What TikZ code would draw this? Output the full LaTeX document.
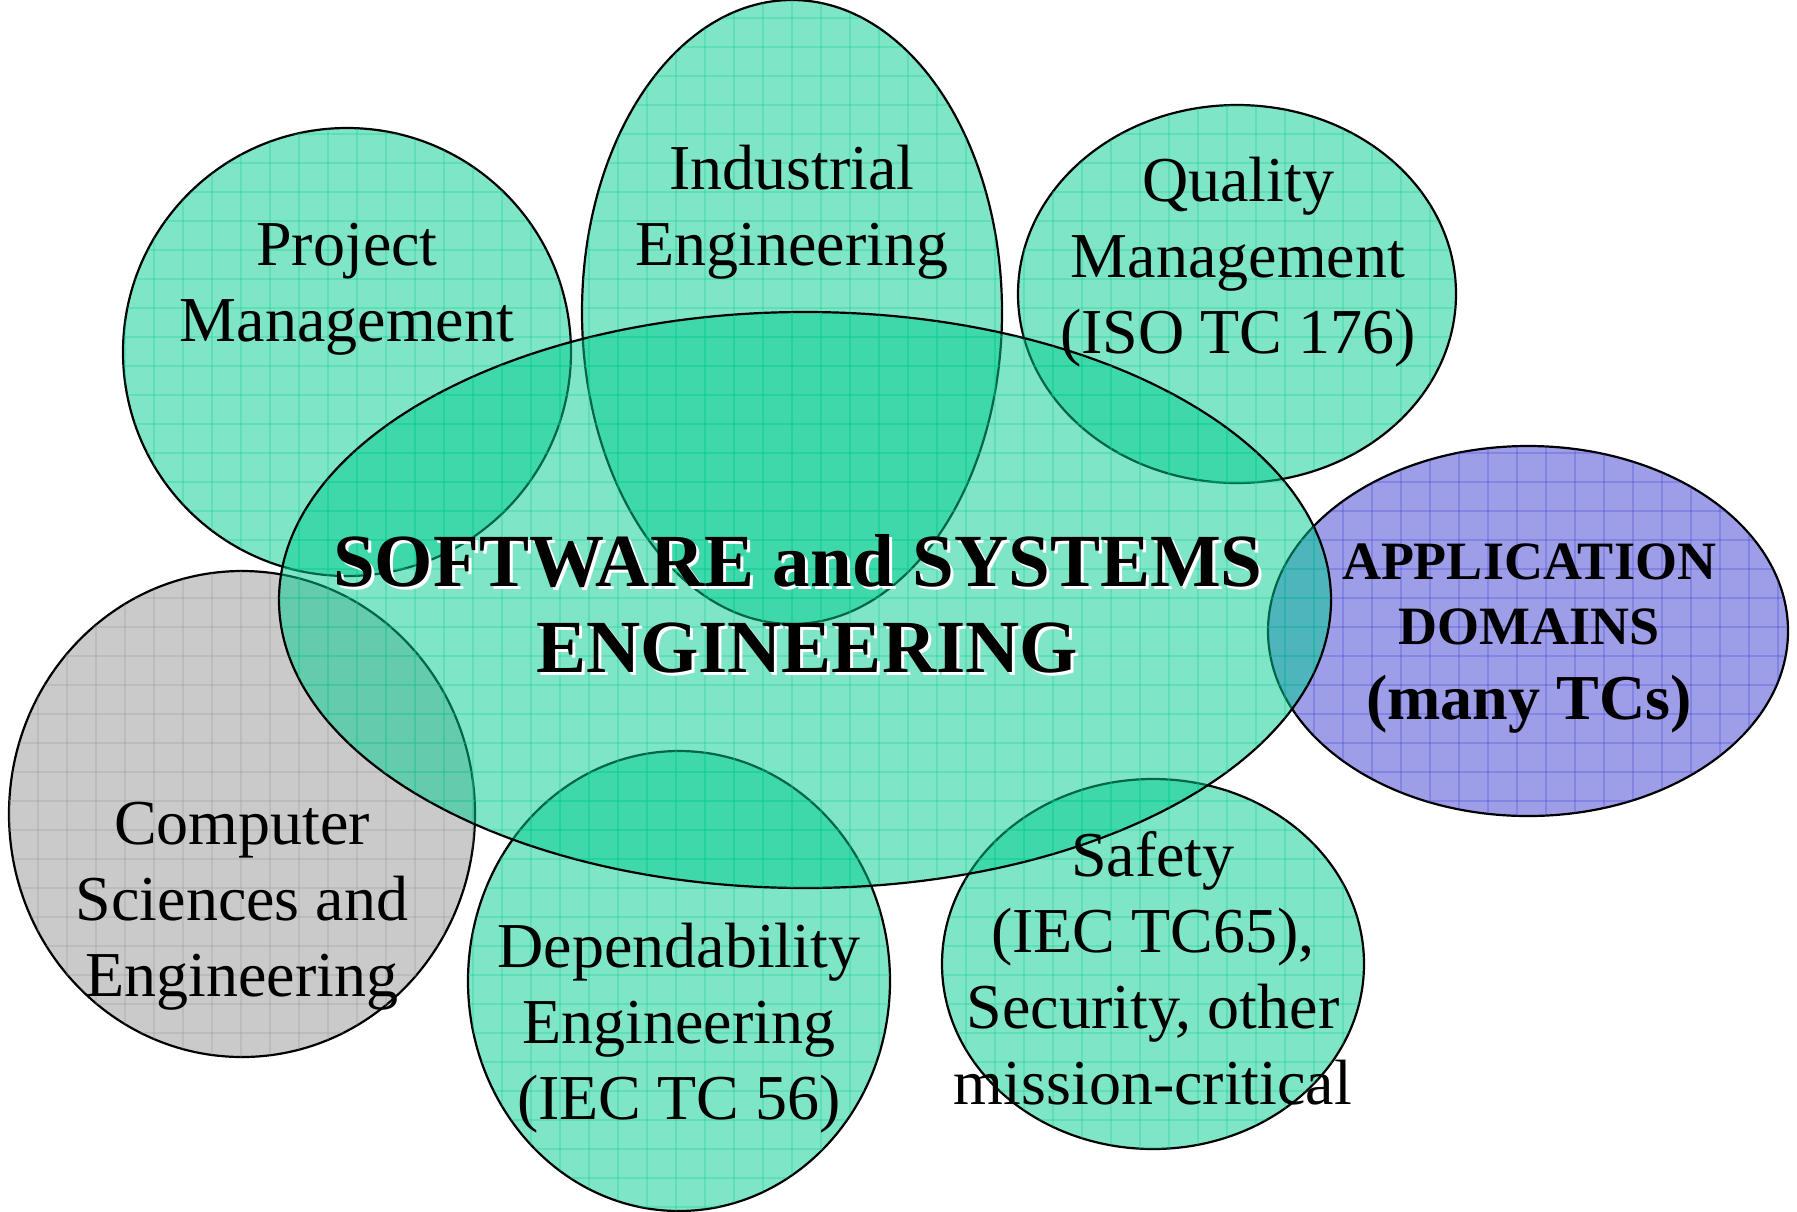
\documentclass[tikz,border=0pt]{standalone}
\usepackage{fontspec}
\setmainfont{Liberation Serif}
\usetikzlibrary{shapes.geometric}
\definecolor{tealC}{RGB}{0,205,145}
\definecolor{grayC}{RGB}{150,150,150}
\definecolor{blueC}{RGB}{60,60,210}
\tikzset{
  blobshape/.style={ellipse, draw=black, line width=1.1pt, inner sep=0pt, outer sep=0pt, fill opacity=0.5, draw opacity=1},
  gline/.style={line width=0.55pt, draw opacity=0.25},
  lbl/.style={align=center, inner sep=0pt, text=black, font=\fontsize{32}{38}\selectfont},
  bigt/.style={align=center, inner sep=0pt, font=\bfseries\fontsize{37.5}{43}\selectfont},
}
\newcommand\gridlines[1]{%
  \foreach \gx in {9,38,...,1800} {\draw[gline,#1] (\gx,0) -- (\gx,1211);}
  \foreach \gy in {18,47,...,1211} {\draw[gline,#1] (0,\gy) -- (1797,\gy);}
}
\newcommand\blob[6]{%
  \node[blobshape, fill=#6, minimum width=#4pt, minimum height=#5pt] (#1) at (#2,#3) {};
  \begin{scope}
    \clip (#2,#3) ellipse [x radius=#4, y radius=#5];
    \gridlines{#6}
  \end{scope}
}
\begin{document}
\begin{tikzpicture}[x=0.5pt,y=-0.5pt]
  \useasboundingbox (0,0) rectangle (1797,1211);
  \fill[white] (0,0) rectangle (1797,1211);
  % shapes
  \blob{pm}{347}{352}{224}{224}{tealC}
  \blob{ie}{792}{312}{210}{312}{tealC}
  \blob{qm}{1237}{294}{219}{189}{tealC}
  \blob{cs}{242}{814}{233}{243}{grayC}
  \blob{de}{679}{981}{211}{230}{tealC}
  \blob{sa}{1153}{964}{211}{185}{tealC}
  \blob{ad}{1528}{631}{260}{185}{blueC}
  \blob{se}{805}{600}{526}{288}{tealC}
  % labels
  \node[lbl] (tpm) at (347,289) {Project\\Management};
  \node[lbl] (tie) at (792,212) {Industrial\\Engineering};
  \node[lbl] (tqm) at (1238,262) {Quality\\Management\\(ISO TC 176)};
  \node[lbl] (tcs) at (242,906) {Computer\\Sciences and\\Engineering};
  \node[lbl] (tde) at (679,1028) {Dependability\\Engineering\\(IEC TC 56)};
  \node[lbl] (tsa) at (1153,968) {Safety\\(IEC TC65),\\Security, other\\mission-critical};
  \node[align=center, inner sep=0pt, font=\bfseries\fontsize{27}{32.5}\selectfont] (tad) at (1529,639)
    {APPLICATION\\DOMAINS\\[5pt]\fontsize{32}{36.5}\selectfont (many TCs)};
  \node[bigt, text=white] (tses) at (801,607) {SOFTWARE and SYSTEMS\\\hspace*{9pt}ENGINEERING};
  \node[bigt, text=black] (tse) at (798,604) {SOFTWARE and SYSTEMS\\\hspace*{9pt}ENGINEERING};
\end{tikzpicture}
\end{document}
